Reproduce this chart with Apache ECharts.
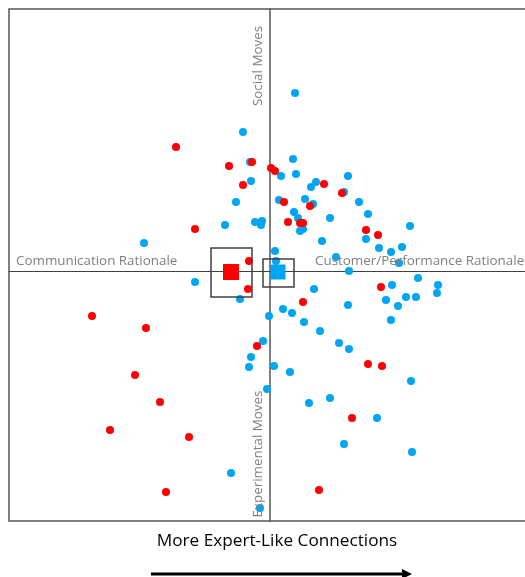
<!DOCTYPE html>
<html>
<head>
<meta charset="utf-8">
<script src="https://cdn.jsdelivr.net/npm/echarts@6/dist/echarts.min.js"></script>
<style>
  html, body { margin: 0; padding: 0; background: #fff; }
  #main { width: 525px; height: 577px; }
</style>
</head>
<body>
<div id="main"></div>
<script>
// positions on the two rationale/moves axes (arbitrary units, 0 = crossing)
const redPoints = [
  [-94, 124], [-41, 105], [-18, 109], [1, 103], [5, 100], [-27, 86], [54, 87],
  [72, 78], [14, 69], [40, 65], [18, 49], [30, 48], [33, 48], [-75, 42],
  [96, 41], [108, 36], [-21, 10], [111, -16], [-22, -18], [33, -31],
  [-178, -45], [-124, -57], [-13, -75], [98, -93], [112, -95], [-135, -104],
  [-110, -131], [82, -147], [-160, -159], [-81, -166], [-104, -221], [49, -219]
];

const bluePoints = [
  [25, 178], [-27, 139], [-20, 109], [23, 112], [11, 95], [26, 97], [-19, 90],
  [41, 84], [46, 89], [78, 95], [74, 79], [-34, 69], [9, 71], [35, 72],
  [43, 67], [89, 69], [24, 59], [28, 53], [60, 53], [98, 57], [-45, 46],
  [-15, 49], [-8, 50], [-9, 46], [30, 40], [33, 42], [96, 32], [140, 45],
  [-126, 28], [52, 30], [109, 23], [121, 19], [132, 24], [5, 20], [6, 10],
  [66, 14], [129, 8], [79, 0], [148, -7], [168, -14], [167, -22], [122, -14],
  [136, -26], [146, -26], [116, -29], [128, -35], [121, -49], [44, -18],
  [78, -34], [-75, -11], [-30, -28], [13, -38], [22, -42], [-1, -45],
  [34, -51], [50, -60], [69, -72], [79, -78], [-7, -70], [-19, -86],
  [-21, -96], [4, -95], [20, -101], [141, -110], [-3, -118], [39, -132],
  [60, -127], [107, -147], [74, -173], [142, -181], [-39, -202], [-10, -237]
];

// group means and their boxes [xMin, xMax, yMin, yMax]
const redMean = [-39, -1];
const blueMean = [8, -1];
const redBox = [-59, -18, -26, 23];
const blueBox = [-7, 24, -16, 12];

// plot runs past the right edge of the picture, so the visible range is lopsided
const xRange = [-261, 255];
const yRange = [-250, 262];

const RED = '#FF0000';
const BLUE = '#00A6F4';
const LABEL_GREY = '#7F7F7F';
const LABEL_FONT = '13.4px "Open Sans"';

const chart = echarts.init(document.getElementById('main'));

function boxItem(params, api) {
  const p1 = api.coord([api.value(0), api.value(3)]);
  const p2 = api.coord([api.value(1), api.value(2)]);
  return {
    type: 'rect',
    shape: { x: p1[0], y: p1[1], width: p2[0] - p1[0], height: p2[1] - p1[1] },
    style: { fill: 'none', stroke: '#404040', lineWidth: 1.5 }
  };
}

const option = {
  animation: false,
  grid: { left: 9, top: 9, right: 0, bottom: 56, show: false },
  xAxis: {
    type: 'value', min: xRange[0], max: xRange[1],
    axisLine: { show: true, onZero: true, lineStyle: { color: '#404040', width: 1.2 } },
    axisTick: { show: false }, axisLabel: { show: false }, splitLine: { show: false }
  },
  yAxis: {
    type: 'value', min: yRange[0], max: yRange[1],
    axisLine: { show: true, onZero: true, lineStyle: { color: '#7F7F7F', width: 2 } },
    axisTick: { show: false }, axisLabel: { show: false }, splitLine: { show: false }
  },
  series: [
    {
      type: 'scatter', data: bluePoints, symbolSize: 8,
      itemStyle: { color: BLUE, opacity: 1 }, z: 3
    },
    {
      type: 'scatter', data: redPoints, symbolSize: 8,
      itemStyle: { color: RED, opacity: 1 }, z: 4
    },
    {
      type: 'custom', renderItem: boxItem, data: [redBox, blueBox], z: 5
    },
    {
      type: 'scatter', data: [redMean], symbol: 'rect', symbolSize: 16,
      itemStyle: { color: RED, opacity: 1 }, z: 6
    },
    {
      type: 'scatter', data: [blueMean], symbol: 'rect', symbolSize: 15,
      itemStyle: { color: BLUE, opacity: 1 }, z: 6
    }
  ],
  graphic: [
    // frame: top, left and bottom only (the right side is cut off)
    {
      type: 'polyline', z: 1,
      shape: { points: [[525, 9], [9, 9], [9, 521], [525, 521]] },
      style: { stroke: '#555', lineWidth: 1.5, fill: null }
    },
    {
      type: 'text', x: 258, y: 66, rotation: Math.PI / 2, z: 10,
      style: { text: 'Social Moves', fill: LABEL_GREY, font: LABEL_FONT, align: 'center', verticalAlign: 'middle' }
    },
    {
      type: 'text', x: 258, y: 454, rotation: Math.PI / 2, z: 10,
      style: { text: 'Experimental Moves', fill: LABEL_GREY, font: LABEL_FONT, align: 'center', verticalAlign: 'middle' }
    },
    {
      type: 'text', x: 16, y: 261, z: 10,
      style: { text: 'Communication Rationale', fill: LABEL_GREY, font: LABEL_FONT, align: 'left', verticalAlign: 'middle' }
    },
    {
      type: 'text', x: 315, y: 261, z: 10,
      style: { text: 'Customer/Performance Rationale', fill: LABEL_GREY, font: LABEL_FONT, align: 'left', verticalAlign: 'middle' }
    },
    {
      type: 'text', x: 277, y: 541, z: 10,
      style: { text: 'More Expert-Like Connections', fill: '#000', font: '17.2px "Open Sans"', align: 'center', verticalAlign: 'middle' }
    },
    {
      type: 'line', z: 10,
      shape: { x1: 151, y1: 574, x2: 404, y2: 574 },
      style: { stroke: '#000', lineWidth: 3 }
    },
    {
      type: 'polygon', z: 10,
      shape: { points: [[402, 569], [412, 574], [402, 579]] },
      style: { fill: '#000' }
    }
  ]
};

chart.setOption(option);
</script>
</body>
</html>
